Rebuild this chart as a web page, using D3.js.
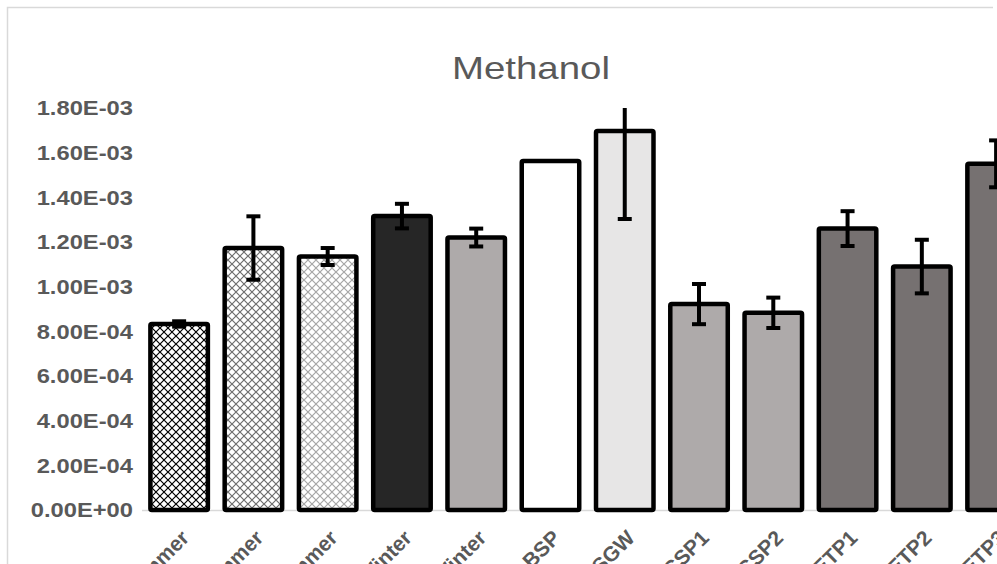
<!DOCTYPE html>
<html>
<head>
<meta charset="utf-8">
<script src="https://cdn.jsdelivr.net/npm/d3@7"></script>
<style>
  html, body { margin: 0; padding: 0; background: #fff; }
  svg { display: block; }
</style>
</head>
<body>
<svg id="chart" width="997" height="564"></svg>
<script>
// ---- data ----
const categories = ["S1 Summer", "S2 Summer", "S3 Summer", "S1 Winter", "S2 Winter", "BSP", "SGW", "CSP1", "CSP2", "ETP1", "ETP2", "ETP3"];
const values = [8.33e-4, 1.173e-3, 1.135e-3, 1.316e-3, 1.220e-3, 1.563e-3, 1.697e-3, 9.22e-4, 8.83e-4, 1.260e-3, 1.090e-3, 1.550e-3];
const errors = [1.2e-5, 1.42e-4, 3.8e-5, 5.5e-5, 4.0e-5, 0, 3.94e-4, 9.0e-5, 6.8e-5, 7.8e-5, 1.2e-4, 1.05e-4];
const fills = ["url(#hatchBlack)", "url(#hatchGray)", "url(#hatchLight)", "#262626", "#aeaaaa", "#ffffff", "#e7e6e6", "#aeaaaa", "#aeaaaa", "#767171", "#767171", "#767171"];
const yTicks = [0, 2e-4, 4e-4, 6e-4, 8e-4, 1e-3, 1.2e-3, 1.4e-3, 1.6e-3, 1.8e-3];
const title = "Methanol";

// ---- layout ----
const svg = d3.select("#chart");
const W = 997, H = 564;
const plotLeft = 142, step = 74.27;
const plotTop = 108, plotBottom = 510;
const stretch = 1.25;

svg.append("rect").attr("width", W).attr("height", H).attr("fill", "#fff");

const defs = svg.append("defs");
function hatch(id, color) {
  const p = defs.append("pattern").attr("id", id).attr("patternUnits", "userSpaceOnUse")
    .attr("width", 8).attr("height", 8);
  p.append("rect").attr("width", 8).attr("height", 8).attr("fill", "#fff");
  p.append("path").attr("d", "M0,0 L8,8 M8,0 L0,8").attr("stroke", color).attr("stroke-width", 1.2).attr("fill", "none");
}
hatch("hatchBlack", "#000");
hatch("hatchGray", "#6e6e6e");
hatch("hatchLight", "#a6a6a6");

defs.append("clipPath").attr("id", "plotClip")
  .append("rect").attr("x", 0).attr("y", plotTop).attr("width", W + 200).attr("height", plotBottom - plotTop + 10);

// chart border
svg.append("path")
  .attr("d", `M7.5,${H + 5} L7.5,7.5 L993,7.5`)
  .attr("fill", "none").attr("stroke", "#d9d9d9").attr("stroke-width", 1.5);

const x = d3.scaleBand()
  .domain(d3.range(categories.length))
  .range([plotLeft, plotLeft + step * categories.length])
  .paddingInner(0.226).paddingOuter(0.113);

const y = d3.scaleLinear().domain([0, 1.8e-3]).range([plotBottom, plotTop]);

// title
svg.append("text")
  .attr("transform", `translate(531,79) scale(1.2,1)`)
  .attr("text-anchor", "middle")
  .attr("font-family", "Liberation Sans, Arial, sans-serif").attr("font-size", 32)
  .attr("fill", "#595959").text(title);

// y axis labels
const yAxis = d3.axisLeft(y).tickValues(yTicks).tickSize(0).tickPadding(0)
  .tickFormat(d => d3.format(".2e")(d).replace(/e([+-])(\d)$/, "e$10$2").toUpperCase());
const gy = svg.append("g").attr("transform", `translate(133,0)`).call(yAxis);
gy.select(".domain").remove();
gy.selectAll("text").attr("font-family", "Liberation Sans, Arial, sans-serif")
  .attr("font-weight", "bold").attr("font-size", 19.5).attr("fill", "#595959")
  .attr("dy", "0.35em").attr("transform", `scale(${stretch * 19 / 19.5},1)`);

// x axis line
svg.append("line").attr("x1", plotLeft).attr("x2", W + 50)
  .attr("y1", plotBottom + 0.5).attr("y2", plotBottom + 0.5)
  .attr("stroke", "#d9d9d9").attr("stroke-width", 1.5);

// bars
const plot = svg.append("g").attr("clip-path", "url(#plotClip)");
const sw = 4.5;
plot.selectAll("rect.bar").data(values).join("rect").attr("class", "bar")
  .attr("x", (d, i) => x(i))
  .attr("width", x.bandwidth())
  .attr("y", d => y(d))
  .attr("height", d => y(0) - y(d))
  .attr("fill", (d, i) => fills[i])
  .attr("stroke", "#000").attr("stroke-width", sw)
  .attr("stroke-linejoin", "round").attr("rx", 1.5);

// error bars
const eb = plot.selectAll("g.err").data(values.map((v, i) => ({ v, e: errors[i], i })).filter(d => d.e > 0))
  .join("g").attr("class", "err");
eb.append("line")
  .attr("x1", d => x(d.i) + x.bandwidth() / 2).attr("x2", d => x(d.i) + x.bandwidth() / 2)
  .attr("y1", d => y(d.v - d.e)).attr("y2", d => y(d.v + d.e))
  .attr("stroke", "#000").attr("stroke-width", 4);
["lo", "hi"].forEach(k => {
  eb.append("line")
    .attr("x1", d => x(d.i) + x.bandwidth() / 2 - 7).attr("x2", d => x(d.i) + x.bandwidth() / 2 + 7)
    .attr("y1", d => y(k === "lo" ? d.v - d.e : d.v + d.e))
    .attr("y2", d => y(k === "lo" ? d.v - d.e : d.v + d.e))
    .attr("stroke", "#000").attr("stroke-width", 4);
});

// x labels
const gx = svg.append("g");
gx.selectAll("text").data(categories).join("text")
  .attr("transform", (d, i) => `translate(${x(i) + x.bandwidth() / 2 + 6},${plotBottom + 24}) rotate(-45)`)
  .attr("text-anchor", "end").attr("dy", "0.35em")
  .attr("font-family", "Liberation Sans, Arial, sans-serif")
  .attr("font-weight", "bold").attr("font-size", 21).attr("fill", "#595959")
  .text(d => d);
</script>
</body>
</html>
